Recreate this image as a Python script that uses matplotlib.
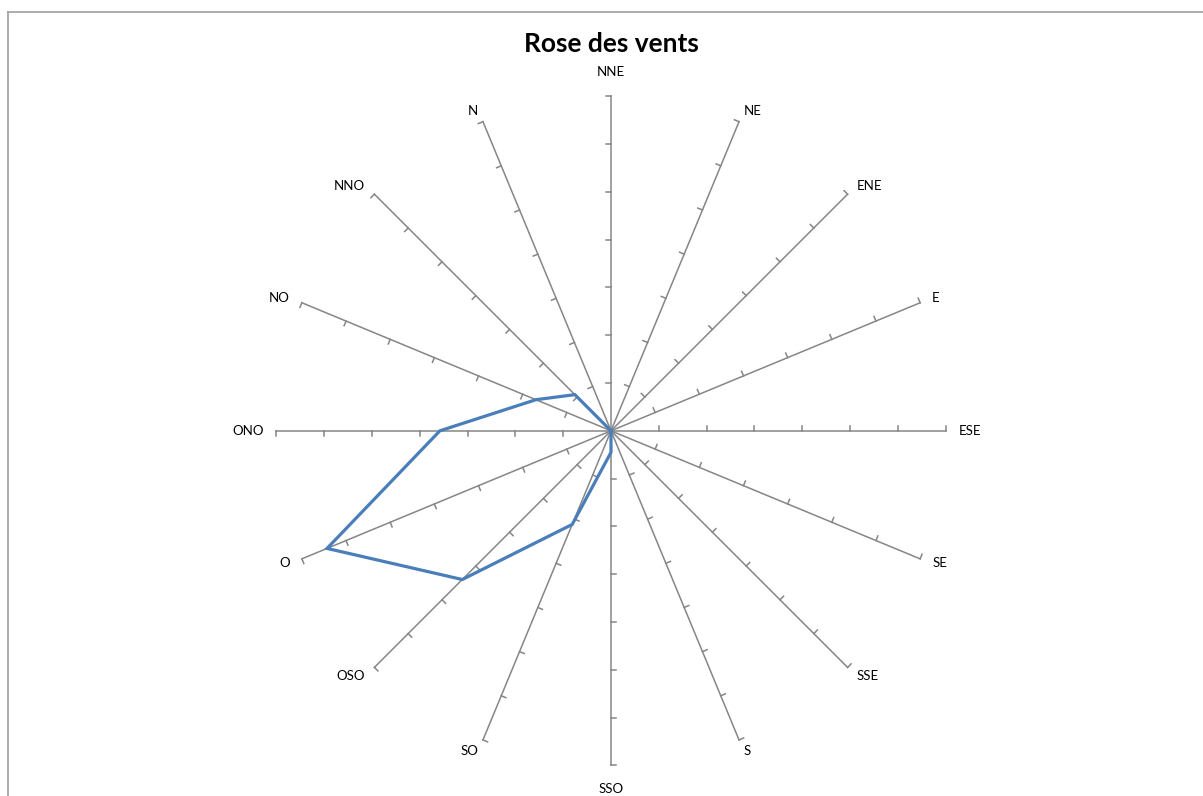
import numpy as np
import matplotlib
matplotlib.use("Agg")
import matplotlib.pyplot as plt
from matplotlib.lines import Line2D

# directions, clockwise from the top
directions = ["NNE", "NE", "ENE", "E", "ESE", "SE", "SSE", "S",
              "SSO", "SO", "OSO", "O", "ONO", "NO", "NNO", "N"]
frequences = [0, 0, 0, 0, 0, 0, 0, 0,
              0.45, 2.12, 4.4, 6.43, 3.58, 1.7, 1.07, 0]
graduations = [1, 2, 3, 4, 5, 6, 7]
r_max = 7

W, H, DPI = 1203, 796, 100
cx, cy = 611, 430.8      # centre of the rose, pixels
unit = 47.8              # pixels per graduation

fig = plt.figure(figsize=(W / DPI, H / DPI), dpi=DPI)
fig.patch.set_facecolor("white")
ax = fig.add_axes([0, 0, 1, 1])
ax.set_xlim(-cx / unit, (W - cx) / unit)
ax.set_ylim(-(H - cy) / unit, cy / unit)
ax.set_aspect("equal")
ax.axis("off")

angles = np.deg2rad(90 - 22.5 * np.arange(len(directions)))
axe_col = "#868686"
tick_len = 5 / unit

for a in angles:
    c, s = np.cos(a), np.sin(a)
    ax.plot([0, r_max * c], [0, r_max * s], color=axe_col, lw=1.1, zorder=1)
    # small ticks on the counter-clockwise side of each spoke
    for g in graduations:
        x0, y0 = g * c, g * s
        ax.plot([x0, x0 - tick_len * s], [y0, y0 + tick_len * c],
                color=axe_col, lw=1.1, zorder=1)

# the wind series, closed polygon
v = np.array(frequences + frequences[:1])
aa = np.concatenate([angles, angles[:1]])
ax.plot(v * np.cos(aa), v * np.sin(aa), color="#4A7EBB", lw=2.3,
        solid_joinstyle="miter", zorder=3)

# direction labels just beyond the end of each spoke
labels = []
for name, a in zip(directions, angles):
    t = ax.annotate(name, (r_max * np.cos(a), r_max * np.sin(a)),
                    xytext=(0, 0), textcoords="offset pixels",
                    ha="center", va="center", fontsize=9.5,
                    family="Lato", color="black")
    labels.append((t, a))

fig.canvas.draw()
rend = fig.canvas.get_renderer()
for t, a in labels:
    w = t.get_window_extent(rend).width
    c, s = np.cos(a), np.sin(a)
    sx = 0 if abs(c) < 1e-6 else np.sign(c)
    dx = 13 * c + sx * w / 2
    dy = 12 * s + (12 * np.sign(s) if abs(s) > 0.99 else 0)
    t.xyann = (dx, dy)

fig.text(cx / W, 1 - 51.7 / H, "Rose des vents", ha="center", va="baseline",
         fontsize=19, fontweight="bold", family="Lato", color="black")

# chart-area frame (top and left edges visible)
frame_col = "#A6A6A6"
fig.add_artist(Line2D([8 / W, 1], [1 - 11.5 / H, 1 - 11.5 / H],
                      transform=fig.transFigure, color=frame_col, lw=1.3))
fig.add_artist(Line2D([8 / W, 8 / W], [0, 1 - 11.5 / H],
                      transform=fig.transFigure, color=frame_col, lw=1.3))

fig.savefig("out.png", dpi=DPI)
